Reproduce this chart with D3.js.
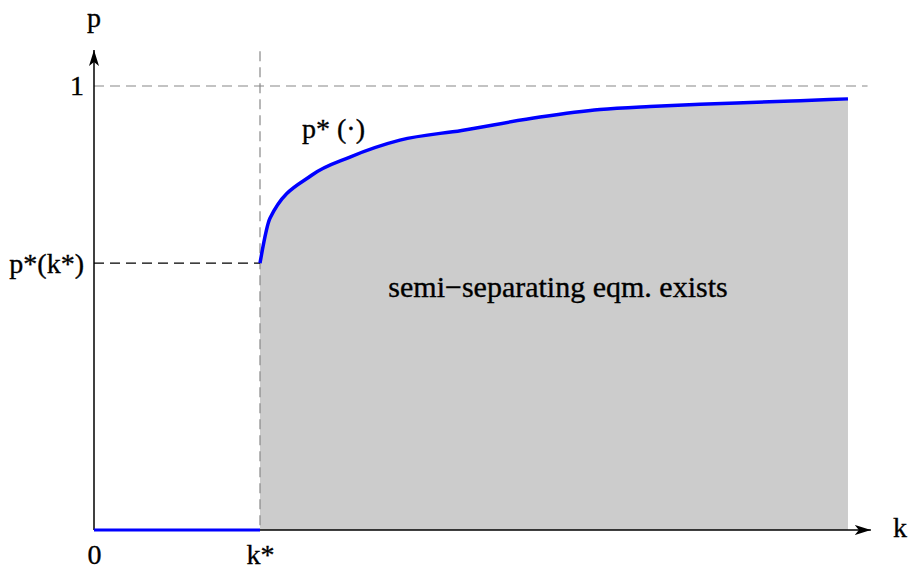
<!DOCTYPE html>
<html>
<head>
<meta charset="utf-8">
<script src="https://cdn.jsdelivr.net/npm/d3@7"></script>
<style>
  body { margin: 0; background: #fff; }
  svg text { font-family: "Liberation Serif", "Times New Roman", serif; fill: #000; stroke: #000; stroke-width: 0.35px; }
</style>
</head>
<body>
<div id="chart"></div>
<script>
// threshold values
const kStar = 1;
const pStarKStar = 0.601;

// p*(k)
const curveK = [1.0, 1.06, 1.311, 1.542, 1.843, 2.215, 2.687, 3.048, 3.349, 3.651, 3.952, 4.253, 4.542];
const curveP = [0.601, 0.702, 0.799, 0.840, 0.878, 0.900, 0.930, 0.947, 0.954, 0.959, 0.963, 0.967, 0.971];

const yTicks = [pStarKStar, 1];
const yTickLabels = ["p*(k*)", "1"];
const xTicks = [0, kStar];
const xTickLabels = ["0", "k*"];

let width = 908, height = 571;

let x = d3.scaleLinear().domain([0, 4.6]).range([94, 94 + 4.6 * 166]);
let y = d3.scaleLinear().domain([0, 1]).range([530, 86]);

let curve = curveK.map((k, i) => ({ k: k, p: curveP[i] }));

let svg = d3.select("#chart").append("svg")
  .attr("width", width)
  .attr("height", height);

svg.append("defs").append("marker")
  .attr("id", "arrow")
  .attr("viewBox", "0 0 16 10")
  .attr("refX", 16).attr("refY", 5)
  .attr("markerWidth", 16).attr("markerHeight", 10)
  .attr("markerUnits", "userSpaceOnUse")
  .attr("orient", "auto")
  .append("path")
  .attr("d", "M0,0 L16,5 L0,10 L4,5 Z")
  .attr("fill", "#000");

// shaded region
let area = d3.area()
  .x(d => x(d.k))
  .y0(y(0))
  .y1(d => y(d.p))
  .curve(d3.curveMonotoneX);

svg.append("path")
  .datum(curve)
  .attr("d", area)
  .attr("fill", "#cccccc");

// guide lines
svg.append("line")
  .attr("x1", x(0)).attr("x2", x(4.66))
  .attr("y1", y(1)).attr("y2", y(1))
  .attr("stroke", "#888").attr("stroke-width", 1.2)
  .attr("stroke-dasharray", "10,6");

svg.append("line")
  .attr("x1", x(kStar)).attr("x2", x(kStar))
  .attr("y1", y(1.078)).attr("y2", y(0))
  .attr("stroke", "#888").attr("stroke-width", 1.2)
  .attr("stroke-dasharray", "10,6");

svg.append("line")
  .attr("x1", x(0)).attr("x2", x(kStar))
  .attr("y1", y(pStarKStar)).attr("y2", y(pStarKStar))
  .attr("stroke", "#000").attr("stroke-width", 1.2)
  .attr("stroke-dasharray", "10,6");

// axes with arrows
svg.append("line")
  .attr("x1", x(0)).attr("x2", x(4.68))
  .attr("y1", y(0)).attr("y2", y(0))
  .attr("stroke", "#000").attr("stroke-width", 1.5)
  .attr("marker-end", "url(#arrow)");

svg.append("line")
  .attr("x1", x(0)).attr("x2", x(0))
  .attr("y1", y(0)).attr("y2", y(1.081))
  .attr("stroke", "#000").attr("stroke-width", 1.5)
  .attr("marker-end", "url(#arrow)");

let yAxis = d3.axisLeft(y)
  .tickValues(yTicks)
  .tickFormat((d, i) => yTickLabels[i])
  .tickSizeInner(0).tickSizeOuter(0).tickPadding(10);

svg.append("g")
  .attr("transform", `translate(${x(0)},0)`)
  .call(yAxis)
  .call(g => g.select(".domain").remove())
  .selectAll("text")
  .attr("font-size", 28)
  .attr("font-family", null);

let xAxis = d3.axisBottom(x)
  .tickValues(xTicks)
  .tickFormat((d, i) => xTickLabels[i])
  .tickSizeInner(0).tickSizeOuter(0).tickPadding(14);

svg.append("g")
  .attr("transform", `translate(0,${y(0)})`)
  .call(xAxis)
  .call(g => g.select(".domain").remove())
  .selectAll("text")
  .attr("font-size", 28)
  .attr("font-family", null);

// p*(.) curve and the zero segment
let line = d3.line()
  .x(d => x(d.k))
  .y(d => y(d.p));

svg.append("path")
  .datum([{ k: 0, p: 0 }, { k: kStar, p: 0 }])
  .attr("d", line)
  .attr("fill", "none")
  .attr("stroke", "#0000ff")
  .attr("stroke-width", 3);

svg.append("path")
  .datum(curve)
  .attr("d", line.curve(d3.curveMonotoneX))
  .attr("fill", "none")
  .attr("stroke", "#0000ff")
  .attr("stroke-width", 3.5)
  .attr("stroke-linejoin", "round");

// labels
svg.append("text")
  .attr("x", x(0)).attr("y", 27)
  .attr("text-anchor", "middle")
  .attr("font-size", 28)
  .text("p");

svg.append("text")
  .attr("x", 893).attr("y", 537)
  .attr("font-size", 28)
  .text("k");

svg.append("text")
  .attr("x", 302).attr("y", 138)
  .attr("font-size", 28)
  .text("p* (·)");

svg.append("text")
  .attr("x", 558).attr("y", 297)
  .attr("text-anchor", "middle")
  .attr("font-size", 30)
  .text("semi−separating eqm. exists");
</script>
</body>
</html>
